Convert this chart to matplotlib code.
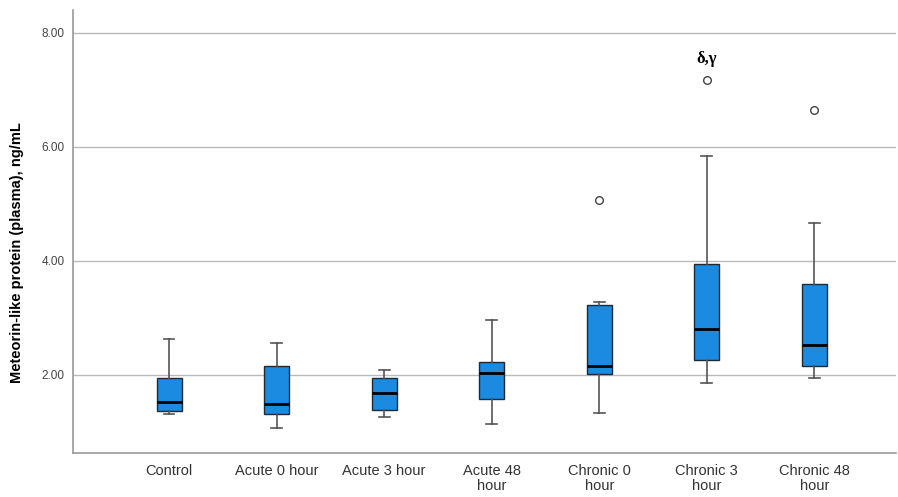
import matplotlib.pyplot as plt
import numpy as np

plt.rcParams['font.family'] = ['Liberation Sans', 'DejaVu Sans']

# group labels and box statistics
groups = ['Control', 'Acute 0 hour', 'Acute 3 hour', 'Acute 48\nhour',
          'Chronic 0\nhour', 'Chronic 3\nhour', 'Chronic 48\nhour']
whis_lo = [1.32, 1.07, 1.26, 1.13, 1.34, 1.85, 1.95]
q1 = [1.36, 1.31, 1.38, 1.575, 2.01, 2.26, 2.15]
med = [1.52, 1.49, 1.68, 2.04, 2.15, 2.81, 2.52]
q3 = [1.95, 2.15, 1.94, 2.23, 3.23, 3.94, 3.585]
whis_hi = [2.635, 2.56, 2.08, 2.96, 3.28, 5.83, 4.67]
outliers = [[], [], [], [], [5.07], [7.16], [6.65]]

sig_group = 5
sig_label = 'δ,γ'
sig_y = 7.54

stats = []
for i in range(len(groups)):
  stats.append({'whislo': whis_lo[i], 'q1': q1[i], 'med': med[i], 'q3': q3[i],
                'whishi': whis_hi[i], 'fliers': outliers[i], 'label': groups[i]})

fig = plt.figure(figsize=(8.98, 4.97), dpi=100)
ax = fig.add_axes([0.0813, 0.0885, 0.917, 0.892])

pos = np.arange(1, len(groups) + 1)
ax.bxp(stats, positions=pos, widths=0.233, patch_artist=True,
       boxprops=dict(facecolor='#1a8be0', edgecolor='#1f2a33', linewidth=1.0),
       medianprops=dict(color='#000000', linewidth=2.0),
       whiskerprops=dict(color='#555555', linewidth=1.2),
       capprops=dict(color='#555555', linewidth=1.2),
       capwidths=0.1,
       flierprops=dict(marker='o', markersize=5.5, markerfacecolor='white',
                       markeredgecolor='#444444', markeredgewidth=1.0),
       zorder=3)

ax.text(pos[sig_group], sig_y, sig_label, ha='center', va='center',
        fontsize=12, fontweight='bold', family=['Liberation Serif', 'DejaVu Serif'])

ax.set_xlim(0.107, 7.763)
ax.set_ylim(0.63, 8.40)
ax.set_yticks([2, 4, 6, 8])
ax.set_yticklabels(['2.00', '4.00', '6.00', '8.00'], fontsize=8.5, color='#444444')
ax.set_xticks(pos)
ax.set_xticklabels(groups, fontsize=10.5, color='#333333', linespacing=1.1)
ax.tick_params(axis='both', length=0)
ax.tick_params(axis='x', pad=8)
ax.tick_params(axis='y', pad=6)
ax.grid(axis='y', color='#bbbbbb', linewidth=1.0, zorder=0)
ax.set_axisbelow(True)

for s in ['top', 'right']:
  ax.spines[s].set_visible(False)
for s in ['left', 'bottom']:
  ax.spines[s].set_color('#999999')
  ax.spines[s].set_linewidth(1.2)

ax.set_ylabel('Meteorin-like protein (plasma), ng/mL', fontsize=10.5,
              fontweight='bold')
ax.yaxis.set_label_coords(-0.0595, 0.4526)

fig.savefig('out.png', dpi=100)
